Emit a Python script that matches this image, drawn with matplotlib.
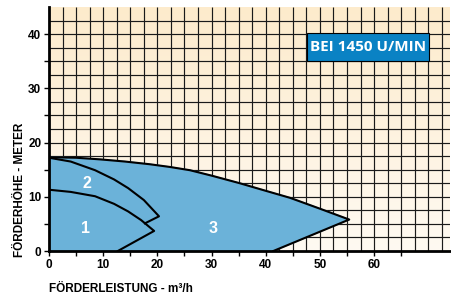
import numpy as np
import matplotlib
matplotlib.use("Agg")
import matplotlib.pyplot as plt
from matplotlib.colors import LinearSegmentedColormap
from matplotlib.patches import Rectangle

# curve 3 (largest impeller)
q3 = [0, 5, 9.4, 14, 18.6, 22.3, 26, 30, 35.2, 40, 44.5, 50, 55.4]
h3 = [17.3, 17.2, 16.9, 16.5, 16.0, 15.5, 14.9, 13.9, 12.5, 11.1, 9.8, 7.8, 5.8]
q3_end = 41.4

# curve 2
q2 = [0, 4, 8.5, 12, 14.6, 17.5, 20.3]
h2 = [17.2, 16.5, 14.9, 13.2, 11.6, 9.4, 6.4]
q2_ret, h2_ret = 17.7, 5.1

# curve 1
q1 = [0, 4, 8.5, 12, 14.6, 17, 19.4]
h1 = [11.3, 10.9, 10.1, 8.7, 7.3, 5.7, 3.7]
q1_end = 12.7

labels = ["1", "2", "3"]
label_pos = [(6.8, 4.2), (7.0, 12.4), (30.3, 4.2)]

xticks = [0, 10, 20, 30, 40, 50, 60]
yticks = [0, 10, 20, 30, 40]

fnt = "Liberation Sans"

fig = plt.figure(figsize=(4.51, 2.98), dpi=100)
ax = fig.add_axes([49 / 451, 47 / 298, 401 / 451, 244 / 298])
xmax, ymax = 74, 45
ax.set_xlim(0, xmax)
ax.set_ylim(0, ymax)

# cream gradient background
cmap = LinearSegmentedColormap.from_list("bg", ["#fffaf2", "#fdebcc"])
grad = np.linspace(0, 1, 256).reshape(-1, 1)
ax.imshow(grad, extent=[0, xmax, 0, ymax], origin="lower", cmap=cmap,
          aspect="auto", zorder=0)

# grid every 2.5
ax.vlines(np.arange(2.5, xmax, 2.5), 0, ymax, color="#1a1a1a", lw=0.85, zorder=1)
ax.hlines(np.arange(2.5, ymax, 2.5), 0, xmax, color="#1a1a1a", lw=0.85, zorder=1)

# filled operating area
px = [0] + q3 + [q3_end, 0]
py = [0] + h3 + [0, 0]
ax.fill(px, py, color="#6bb2d9", zorder=2)
ax.plot(q3 + [q3_end], h3 + [0], color="black", lw=1.5, zorder=3)
ax.plot(q2 + [q2_ret], h2 + [h2_ret], color="black", lw=1.5, zorder=3)
ax.plot(q1 + [q1_end], h1 + [0], color="black", lw=1.5, zorder=3)

for lab, (x, y) in zip(labels, label_pos):
    ax.text(x, y, lab, color="white", fontsize=11.5, fontweight="bold",
            ha="center", va="center", family=fnt, zorder=4)

# speed label box
ax.add_patch(Rectangle((47.6, 35.0), 22.5, 5.2, fc="#0a82c4", ec="black",
                       lw=0.8, zorder=5))
ax.text(58.85, 37.6, "BEI 1450 U/MIN", color="white", fontsize=11,
        fontweight="bold", ha="center", va="center", family="Open Sans",
        zorder=6)

for s in ["top", "right"]:
    ax.spines[s].set_visible(False)
for s in ["left", "bottom"]:
    ax.spines[s].set_linewidth(2)
    ax.spines[s].set_zorder(7)

ax.set_xticks(xticks)
ax.set_yticks(yticks)
ax.set_xticks(np.arange(5, xmax, 10), minor=True)
ax.set_yticks(np.arange(5, ymax, 10), minor=True)
ax.tick_params(which="both", direction="out", length=3.5, width=1, pad=2)
for t in ax.get_xticklabels() + ax.get_yticklabels():
    t.set_fontweight("bold")
    t.set_fontsize(8.5)
    t.set_family(fnt)

fig.text(121 / 451, 1 - 289 / 298, "FÖRDERLEISTUNG - m³/h", ha="center",
         va="center", fontsize=8.5, fontweight="bold", family=fnt)
fig.text(20 / 451, 1 - 190 / 298, "FÖRDERHÖHE - METER", ha="center",
         va="center", rotation=90, fontsize=8.5, fontweight="bold",
         family=fnt)

fig.savefig("out.png", dpi=100)
